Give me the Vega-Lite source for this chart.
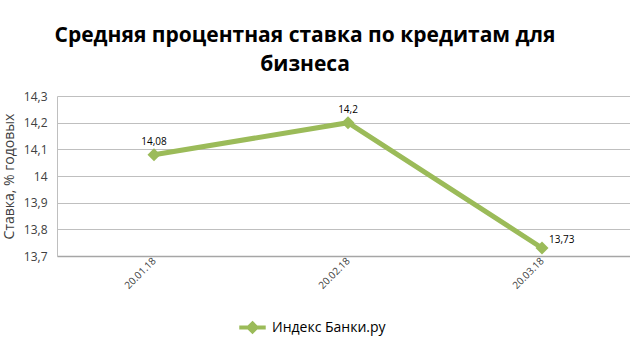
{
  "$schema": "https://vega.github.io/schema/vega-lite/v6.json",
  "autosize": "none",
  "width": 582,
  "height": 160,
  "padding": {"left": 57, "top": 96, "right": 0, "bottom": 99},
  "background": "white",
  "config": {
    "locale": {"number": {"decimal": ",", "thousands": " ", "grouping": [3], "currency": ["", " ₽"]}},
    "view": {"stroke": null},
    "font": "Open Sans"
  },
  "title": {
    "text": ["Средняя процентная ставка по кредитам для", "бизнеса"],
    "fontSize": 21,
    "fontWeight": "bold",
    "font": "Open Sans",
    "color": "#000000",
    "anchor": "middle",
    "frame": "group",
    "dx": -43,
    "lineHeight": 29,
    "offset": 15
  },
  "data": {
    "values": [
      {"date": "20.01.18", "rate": 14.08, "series": "Индекс Банки.ру"},
      {"date": "20.02.18", "rate": 14.2, "series": "Индекс Банки.ру"},
      {"date": "20.03.18", "rate": 13.73, "series": "Индекс Банки.ру"}
    ]
  },
  "encoding": {
    "x": {
      "field": "date",
      "type": "ordinal",
      "sort": null,
      "scale": {"padding": 0.5},
      "axis": {
        "title": null,
        "labelAngle": -45,
        "labelAlign": "right",
        "labelBaseline": "middle",
        "labelFontSize": 10,
        "labelFont": "Open Sans",
        "labelColor": "#404040",
        "labelPadding": 3,
        "ticks": false,
        "domainColor": "#a6a6a6",
        "domainWidth": 1.5,
        "grid": false
      }
    },
    "y": {
      "field": "rate",
      "type": "quantitative",
      "scale": {"domain": [13.7, 14.3], "nice": false, "zero": false},
      "axis": {
        "title": "Ставка, % годовых",
        "titleFontSize": 14,
        "titleFont": "Open Sans",
        "titleFontWeight": "normal",
        "titleColor": "#404040",
        "titlePadding": 7,
        "values": [13.7, 13.8, 13.9, 14, 14.1, 14.2, 14.3],
        "format": "~g",
        "labelFontSize": 12,
        "labelFont": "Open Sans",
        "labelColor": "#404040",
        "labelPadding": 10,
        "ticks": false,
        "domainColor": "#bfbfbf",
        "gridColor": "#bfbfbf",
        "grid": true
      }
    }
  },
  "layer": [
    {
      "mark": {"type": "line", "strokeWidth": 5, "point": {"shape": "diamond", "size": 170, "filled": true, "color": "#9BBB59"}},
      "encoding": {
        "color": {
          "field": "series",
          "type": "nominal",
          "scale": {"range": ["#9BBB59"]},
          "legend": {
            "title": null,
            "orient": "none",
            "legendX": 180,
            "legendY": 216,
            "symbolType": "M-1,0H1M0,-0.3L0.3,0L0,0.3L-0.3,0Z",
            "symbolSize": 700,
            "symbolStrokeWidth": 4,
            "symbolFillColor": "#9BBB59",
            "symbolStrokeColor": "#9BBB59",
            "labelFontSize": 14,
            "labelFont": "Open Sans",
            "labelColor": "#000000",
            "labelOffset": 4
          }
        }
      }
    },
    {
      "transform": [{"filter": "datum.date != '20.03.18'"}],
      "mark": {"type": "text", "dy": -13, "fontSize": 10, "font": "Open Sans", "color": "#000000"},
      "encoding": {"text": {"field": "rate", "type": "quantitative", "format": "~g"}}
    },
    {
      "transform": [{"filter": "datum.date == '20.03.18'"}],
      "mark": {"type": "text", "dx": 7, "dy": -8, "align": "left", "fontSize": 10, "font": "Open Sans", "color": "#000000"},
      "encoding": {"text": {"field": "rate", "type": "quantitative", "format": "~g"}}
    }
  ]
}
